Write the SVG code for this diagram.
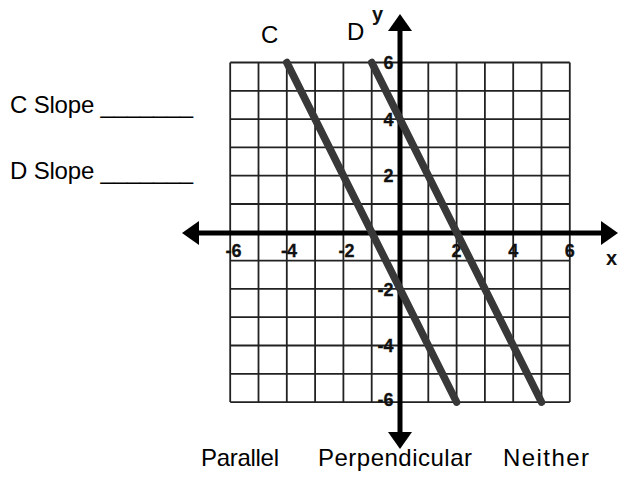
<svg xmlns="http://www.w3.org/2000/svg" width="627" height="487" viewBox="0 0 627 487">
  <style>
    .grid line { stroke: #222; stroke-width: 1.8; }
    .axis { stroke: #000; stroke-width: 5; fill: none; }
    .graph { stroke: #383838; stroke-width: 7.5; stroke-linecap: round; fill: none; }
    .axlbl { font-family: "Liberation Sans", Arial, sans-serif; font-size: 20px; font-weight: bold; fill: #111; }
    .txt { font-family: "Liberation Sans", Arial, sans-serif; font-size: 24px; fill: #000; }
  </style>
  <defs>
    <marker id="arrow" markerUnits="userSpaceOnUse" markerWidth="17" markerHeight="24" viewBox="0 0 17 24" refX="0" refY="12" orient="auto-start-reverse">
      <path d="M0,0 L17,12 L0,24 z" fill="#000"/>
    </marker>
  </defs>
  <rect width="627" height="487" fill="#fff"/>

  <g id="grid" class="grid">
    <line x1="230.2" y1="62.5" x2="230.2" y2="402.1"/>
    <line x1="258.5" y1="62.5" x2="258.5" y2="402.1"/>
    <line x1="286.8" y1="62.5" x2="286.8" y2="402.1"/>
    <line x1="315.1" y1="62.5" x2="315.1" y2="402.1"/>
    <line x1="343.4" y1="62.5" x2="343.4" y2="402.1"/>
    <line x1="371.7" y1="62.5" x2="371.7" y2="402.1"/>
    <line x1="428.3" y1="62.5" x2="428.3" y2="402.1"/>
    <line x1="456.6" y1="62.5" x2="456.6" y2="402.1"/>
    <line x1="484.9" y1="62.5" x2="484.9" y2="402.1"/>
    <line x1="513.2" y1="62.5" x2="513.2" y2="402.1"/>
    <line x1="541.5" y1="62.5" x2="541.5" y2="402.1"/>
    <line x1="569.8" y1="62.5" x2="569.8" y2="402.1"/>
    <line x1="230.2" y1="62.5" x2="569.8" y2="62.5"/>
    <line x1="230.2" y1="90.8" x2="569.8" y2="90.8"/>
    <line x1="230.2" y1="119.1" x2="569.8" y2="119.1"/>
    <line x1="230.2" y1="147.4" x2="569.8" y2="147.4"/>
    <line x1="230.2" y1="175.7" x2="569.8" y2="175.7"/>
    <line x1="230.2" y1="204.0" x2="569.8" y2="204.0"/>
    <line x1="230.2" y1="260.6" x2="569.8" y2="260.6"/>
    <line x1="230.2" y1="288.9" x2="569.8" y2="288.9"/>
    <line x1="230.2" y1="317.2" x2="569.8" y2="317.2"/>
    <line x1="230.2" y1="345.5" x2="569.8" y2="345.5"/>
    <line x1="230.2" y1="373.8" x2="569.8" y2="373.8"/>
    <line x1="230.2" y1="402.1" x2="569.8" y2="402.1"/>
  </g>

  <g id="axes">
    <line class="axis" x1="199" y1="233" x2="601" y2="233" marker-start="url(#arrow)" marker-end="url(#arrow)"/>
    <line class="axis" x1="400" y1="31" x2="400" y2="432" marker-start="url(#arrow)" marker-end="url(#arrow)"/>
    <text class="axlbl" x="606" y="265">x</text>
    <text class="axlbl" x="372" y="21">y</text>
  </g>

  <g id="ticks" font-family="Liberation Sans, Arial, sans-serif" font-size="18" font-weight="bold" fill="#111" stroke="#111" stroke-width="0.3">
    <text x="241.5" y="257" text-anchor="end">-6</text>
    <text x="297" y="257" text-anchor="end">-4</text>
    <text x="354.5" y="257" text-anchor="end">-2</text>
    <text x="456.6" y="257" text-anchor="middle">2</text>
    <text x="513.2" y="257" text-anchor="middle">4</text>
    <text x="569.8" y="257" text-anchor="middle">6</text>
    <text x="393.5" y="69" text-anchor="end">6</text>
    <text x="393.5" y="125.5" text-anchor="end">4</text>
    <text x="393.5" y="182" text-anchor="end">2</text>
    <text x="393.5" y="295.5" text-anchor="end">-2</text>
    <text x="393.5" y="352" text-anchor="end">-4</text>
    <text x="393.5" y="406" text-anchor="end">-6</text>
  </g>

  <g id="line-C">
    <line class="graph" x1="286.8" y1="62.5" x2="456.6" y2="402.1"/>
    <text class="txt" x="261" y="43">C</text>
  </g>
  <g id="line-D">
    <line class="graph" x1="371.7" y1="62.5" x2="541.5" y2="402.1"/>
    <text class="txt" x="347" y="40">D</text>
  </g>

  <g id="questions" class="txt">
    <text x="10" y="113" textLength="183">C Slope _______</text>
    <text x="10" y="179" textLength="183">D Slope _______</text>
  </g>

  <g id="choices" class="txt">
    <text x="201" y="466" textLength="78">Parallel</text>
    <text x="318" y="466" textLength="154">Perpendicular</text>
    <text x="503" y="466" textLength="86">Neither</text>
  </g>
</svg>
